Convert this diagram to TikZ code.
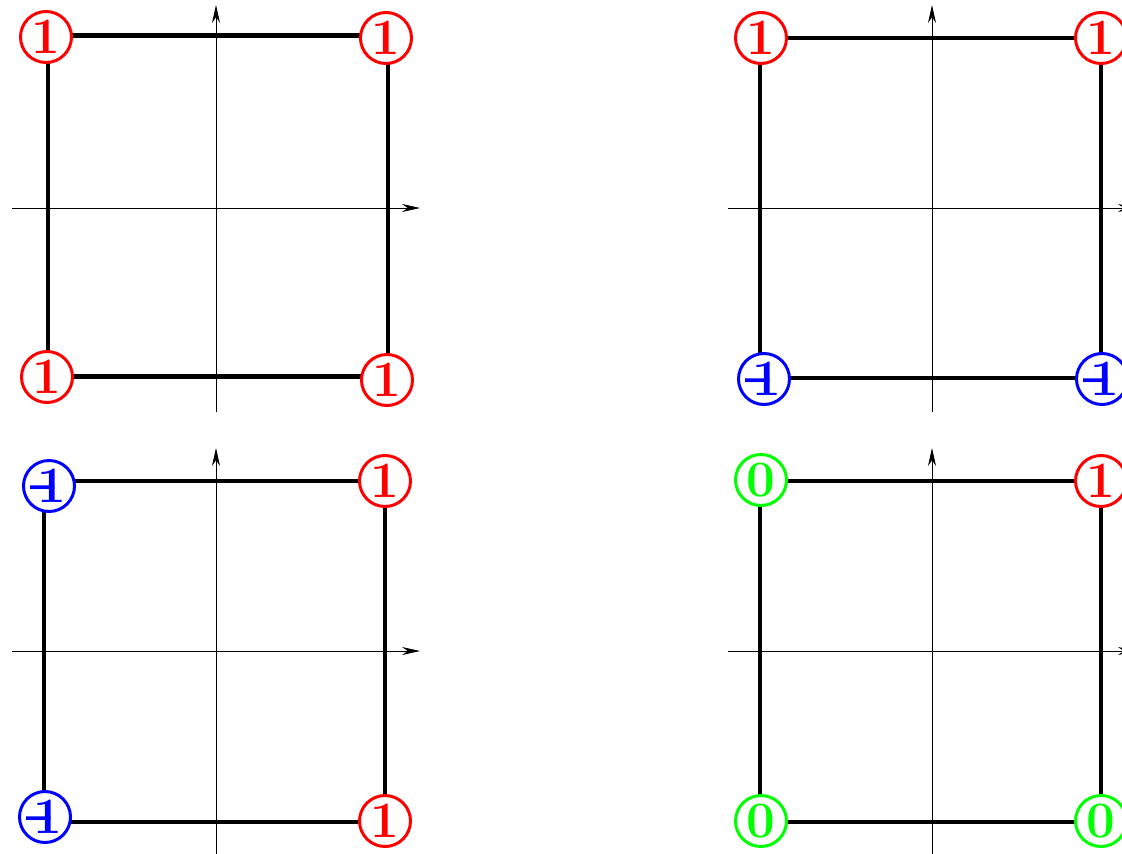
\documentclass[tikz,border=0pt]{standalone}
\usepackage{fontspec}
\usepackage{graphicx}
\usetikzlibrary{arrows.meta}
\newcommand{\negone}{\kern6pt\llap{\raisebox{-15.7pt}[0pt][0pt]{\scalebox{0.85}[2.2]{\textendash}}\kern-17pt}1}
\begin{document}
\begin{tikzpicture}[x=1pt,y=-1pt,
  vtx/.style={circle, draw, line width=3pt, fill=white, minimum size=51pt, inner sep=0pt,
    font=\fontsize{51}{51}\selectfont\bfseries},
  posv/.style={vtx, draw=red, text=red},
  negv/.style={vtx, draw=blue, text=blue},
  zerv/.style={vtx, draw={rgb,255:red,0;green,255;blue,0}, text={rgb,255:red,0;green,255;blue,0}},
  edgethick/.style={line width=5pt},
  edgemid/.style={line width=4pt},
  edgenorm/.style={line width=3.3pt},
  axisline/.style={line width=0.8pt, -{Stealth[length=18pt,width=8pt]}}]
\useasboundingbox (0,0) rectangle (1122,854);

% axes
\foreach \px/\py/\n in {216/208/1, 932/208/2, 216/651/3, 932/651/4}{
  \coordinate (hl\n) at (\px-204,\py);
  \coordinate (hr\n) at (\px+204,\py);
  \coordinate (vb\n) at (\px,\py+204);
  \coordinate (vt\n) at (\px,\py-203);
  \draw[axisline] (hl\n) -- (hr\n);
  \draw[axisline] (vb\n) -- (vt\n);
}

% square corners
\coordinate (p1a) at (48,35);  \coordinate (p1b) at (388,35);
\coordinate (p1c) at (48,376); \coordinate (p1d) at (388,376);
\coordinate (p2a) at (760,38);  \coordinate (p2b) at (1101,38);
\coordinate (p2c) at (760,378); \coordinate (p2d) at (1101,378);
\coordinate (p3a) at (44,481);  \coordinate (p3b) at (385,481);
\coordinate (p3c) at (44,822);  \coordinate (p3d) at (385,822);
\coordinate (p4a) at (760,481);  \coordinate (p4b) at (1101,481);
\coordinate (p4c) at (760,822);  \coordinate (p4d) at (1101,822);

% edges
\draw[edgethick] (p1a) -- (p1b);
\draw[edgethick] (p1c) -- (p1d);
\draw[edgemid] (p1a) -- (p1c);
\draw[edgemid] (p1b) -- (p1d);
\foreach \n in {2,3,4}{
  \draw[edgenorm] (p\n a) -- (p\n b);
  \draw[edgenorm] (p\n c) -- (p\n d);
  \draw[edgenorm] (p\n a) -- (p\n c);
  \draw[edgenorm] (p\n b) -- (p\n d);
}

% panel 1
\node[posv] (a1) at (46,37) {1};
\node[posv] (b1) at (386,38) {1};
\node[posv] (c1) at (47,377) {1};
\node[posv] (d1) at (387,380) {1};

% panel 2
\node[posv] (a2) at (761,38) {1};
\node[posv] (b2) at (1101,38) {1};
\node[negv] (c2) at (764,379) {\negone};
\node[negv] (d2) at (1102,379) {\negone};

% panel 3
\node[negv] (a3) at (49,486) {\negone};
\node[posv] (b3) at (385,481) {1};
\node[negv] (c3) at (45,817) {\negone};
\node[posv] (d3) at (385,821) {1};

% panel 4
\node[zerv] (a4) at (761,480) {0};
\node[posv] (b4) at (1101,481) {1};
\node[zerv] (c4) at (761,821) {0};
\node[zerv] (d4) at (1101,821) {0};
\end{tikzpicture}
\end{document}
